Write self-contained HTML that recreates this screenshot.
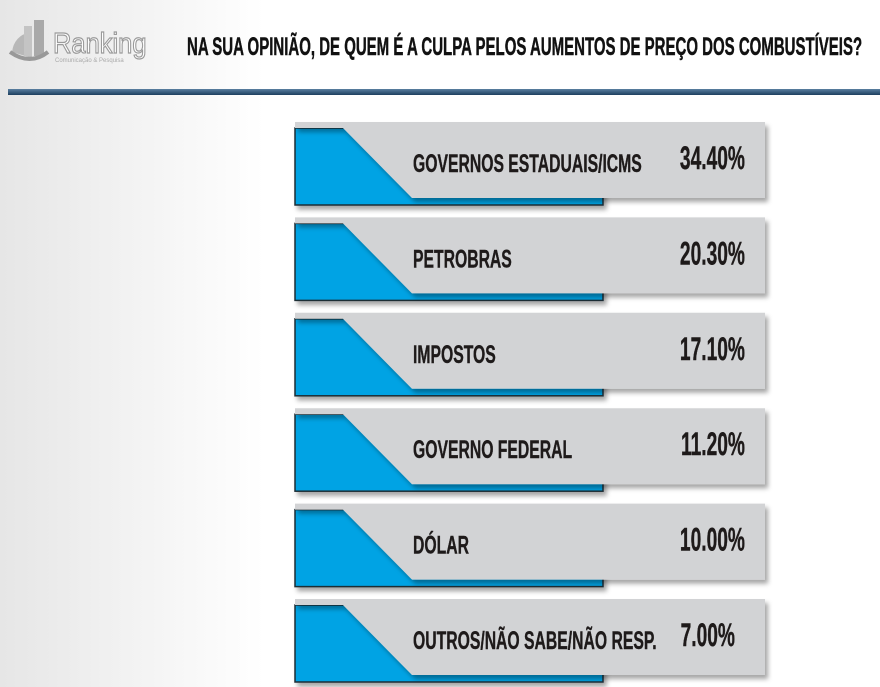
<!DOCTYPE html>
<html><head><meta charset="utf-8"><style>
html,body{margin:0;padding:0;width:880px;height:687px;overflow:hidden;background:#fff}
svg{display:block}
</style></head><body>
<svg width="880" height="687" viewBox="0 0 880 687" id="chart" font-family="'Liberation Sans', sans-serif">
<defs>
<linearGradient id="bg" x1="0" x2="1" y1="0" y2="0">
<stop offset="0" stop-color="#e6e6e6"/><stop offset="0.3" stop-color="#ffffff"/></linearGradient>
<linearGradient id="rule" x1="0" x2="0" y1="0" y2="1">
<stop offset="0" stop-color="#5a7fa0"/><stop offset="1" stop-color="#1d3f5e"/></linearGradient>
<filter id="sh" x="-5%" y="-10%" width="115%" height="140%"><feDropShadow dx="3" dy="4" stdDeviation="2.5" flood-color="#000" flood-opacity="0.35"/></filter>
</defs>
<rect width="880" height="687" fill="url(#bg)"/>
<g>
<path d="M12 52 Q14 36 30 32 L32 58 Z" fill="#b8b8b8"/>
<rect x="24" y="26" width="8" height="30" fill="#c4c4c4"/>
<rect x="34" y="20" width="10" height="36" fill="#a9a9a9"/>
<path d="M10 52 Q30 66 48 52" stroke="#999" stroke-width="4" fill="none"/>
<text x="53" y="53" font-size="29" fill="#fff" stroke="#9a9a9a" stroke-width="1.2" transform="translate(53 0) scale(0.88 1) translate(-53 0)">Ranking</text>
<text x="55" y="62" font-size="6" fill="#aaa">Comunicação &amp; Pesquisa</text>
</g>
<text x="187" y="55" font-size="25" font-weight="bold" fill="#111" stroke="#111" stroke-width="0.5" transform="translate(187 0) scale(0.6 1) translate(-187 0)">NA SUA OPINIÃO, DE QUEM É A CULPA PELOS AUMENTOS DE PREÇO DOS COMBUSTÍVEIS?</text>
<rect x="8" y="89" width="872" height="6" fill="url(#rule)"/>
<g id="bars"></g>
</svg>
<script>
const categories = ["GOVERNOS ESTADUAIS/ICMS","PETROBRAS","IMPOSTOS","GOVERNO FEDERAL","DÓLAR","OUTROS/NÃO SABE/NÃO RESP."];
const values = [34.4, 20.3, 17.1, 11.2, 10.0, 7.0];
const valueLabels = ["34.40%","20.30%","17.10%","11.20%","10.00%","7.00%"];
const NS = "http://www.w3.org/2000/svg";
const g = document.getElementById('bars');
function rowY(i){ return 122 + i * 95.4; }
function mk(tag, attrs){ const e = document.createElementNS(NS, tag); for (const k in attrs) e.setAttribute(k, attrs[k]); return e; }
categories.forEach((c, i) => {
  const y = rowY(i);
  const row = mk('g', {});
  
  
  const blue = mk('rect', {x:295, y:y+6, width:308, height:77, fill:'#00a3e4', stroke:'#1f2d36', 'stroke-width':1.5, filter:'url(#sh)'});
  
  
  row.appendChild(blue);
  const gray = mk('polygon', {points:`295,${y} 765,${y} 765,${y+76} 412,${y+76} 343,${y+6} 295,${y+6}`, fill:'#d2d3d5', filter:'url(#sh)'});
  
  
  row.appendChild(gray);
  const lab = mk('text', {x:413, y:y+50, 'font-size':25, 'font-weight':'bold', fill:'#1e1a1a', stroke:'#1e1a1a', 'stroke-width':0.4, transform:`translate(413 0) scale(0.63 1) translate(-413 0)`});
  lab.textContent = c;
  
  
  row.appendChild(lab);
  const vx = i === categories.length - 1 ? 735 : 745;
  const val = mk('text', {x:vx, y:y+47, 'font-size':32, 'font-weight':'bold', fill:'#1e1a1a', stroke:'#1e1a1a', 'stroke-width':0.4, 'text-anchor':'end', transform:`translate(${vx} 0) scale(0.6 1) translate(${-vx} 0)`});
  val.textContent = valueLabels[i];
  
  
  val.setAttribute('data-value', values[i]);
  row.appendChild(val);
  g.appendChild(row);
});
</script>
</body></html>
